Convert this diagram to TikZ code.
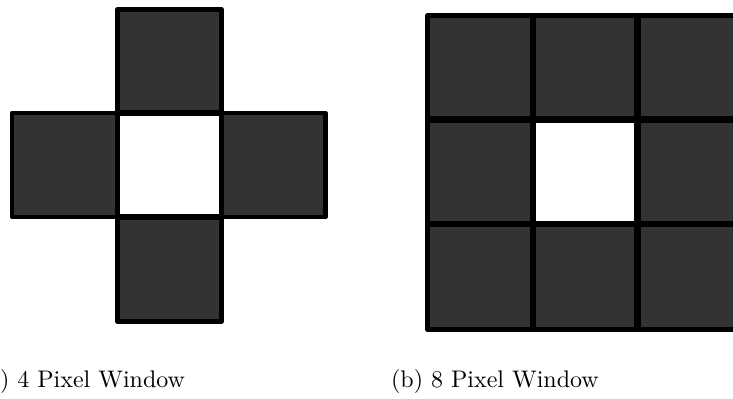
\documentclass[tikz,border=0pt]{standalone}
\begin{document}
\begin{tikzpicture}[x=0.4167pt,y=-0.4167pt,
  cellbox/.style={draw=black,line width=1.9pt,line join=round,fill=cellgrey},
  emptybox/.style={draw=black,line width=2.1pt,line join=round,fill=white},
  innerline/.style={draw=black,line width=2.6pt},
  captiontext/.style={inner sep=0pt,font=\fontsize{10}{12}\selectfont}]
\definecolor{cellgrey}{HTML}{333333}
\useasboundingbox (0,0) rectangle (733,399);
\begin{scope}
\clip (0,0) rectangle (733,399);
% (a) 4 pixel window
\draw[cellbox] (117.5,9.5) rectangle (221.5,113);
\draw[cellbox] (12,113) rectangle (117.5,217);
\draw[cellbox] (221.5,113) rectangle (325.5,217);
\draw[cellbox] (117.5,217) rectangle (221.5,321.5);
\draw[emptybox] (117.5,113) rectangle (221.5,217);
% (b) 8 pixel window
\foreach \i/\xa/\xb in {0/427.5/532.2,1/532.2/636.9,2/636.9/741.6}{
  \foreach \j/\ya/\yb in {0/15.5/120.2,1/120.2/224.9,2/224.9/329.6}{
    \draw[cellbox] (\xa,\ya) rectangle (\xb,\yb);
  }
}
\draw[emptybox] (532.2,120.2) rectangle (636.9,224.9);
\draw[innerline] (532.7,15.5) -- (532.7,329.6);
\draw[innerline] (637.5,15.5) -- (637.5,329.6);
\draw[innerline] (427.5,119.5) -- (741.6,119.5);
\draw[innerline] (427.5,223.8) -- (741.6,223.8);
\node[captiontext,anchor=base east] (capa) at (185.5,388) {(a) 4 Pixel Window};
\node[captiontext,anchor=base west] (capb) at (390.6,388) {(b) 8 Pixel Window};
\end{scope}
\end{tikzpicture}
\end{document}
